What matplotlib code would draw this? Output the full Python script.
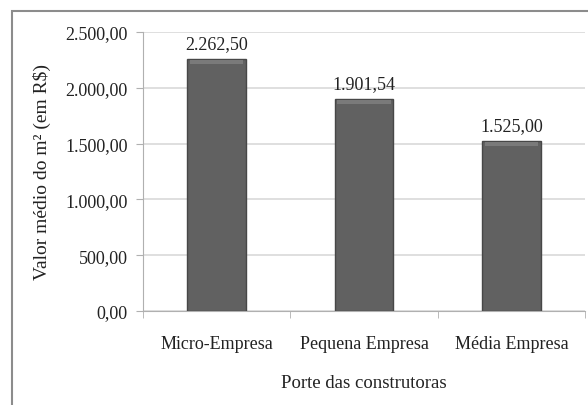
import matplotlib
matplotlib.use("Agg")
import matplotlib.pyplot as plt
from matplotlib.patches import Rectangle

# dados do gráfico
categorias = ["Micro-Empresa", "Pequena Empresa", "Média Empresa"]
valores = [2262.50, 1901.54, 1525.00]
yticks = [0, 500, 1000, 1500, 2000, 2500]


def fmt_br(v):
    # formato brasileiro: 2.262,50
    s = f"{v:,.2f}"
    return s.replace(",", "X").replace(".", ",").replace("X", ".")


plt.rcParams["font.family"] = ["Liberation Serif", "DejaVu Serif"]

fig = plt.figure(figsize=(5.88, 4.06), dpi=100)

# moldura externa (cortada à direita e embaixo)
fig.patches.append(Rectangle((12 / 588, -0.05), 1.2, 1 - 12 / 406 + 0.05,
                             transform=fig.transFigure, fill=False,
                             edgecolor="#8c8c8c", linewidth=1.5))

ax = fig.add_axes([143 / 588, 1 - 312 / 406, 442 / 588, 279 / 406])

x = range(len(categorias))
bars = ax.bar(x, valores, width=0.40, color="#616161", edgecolor="#474747",
              linewidth=1.0, zorder=3)

# leve brilho no topo das barras (efeito chanfrado)
for b in bars:
    ax.add_patch(Rectangle((b.get_x() + 0.02, b.get_height() - 45),
                           b.get_width() - 0.04, 35, facecolor="#7a7a7a",
                           edgecolor="none", zorder=4))

for b, v in zip(bars, valores):
    ax.text(b.get_x() + b.get_width() / 2, v + 60, fmt_br(v),
            ha="center", va="bottom", fontsize=13, color="#222222")

ax.set_xlim(-0.5, 2.5)
ax.set_ylim(0, 2500)
ax.set_yticks(yticks)
ax.set_yticklabels([fmt_br(v) for v in yticks], fontsize=13, color="#222222")
ax.set_xticks([0, 1, 2])
ax.set_xticklabels(categorias, fontsize=13, color="#222222")
ax.set_xticks([-0.5, 0.5, 1.5, 2.5], minor=True)

ax.grid(axis="y", color="#d9d9d9", linewidth=1.2, zorder=0)
ax.tick_params(axis="x", which="major", length=0, pad=17)
ax.tick_params(axis="x", which="minor", length=5, color="#b0b0b0")
ax.tick_params(axis="y", length=5, color="#b0b0b0", pad=6)

for side in ["top", "right"]:
    ax.spines[side].set_visible(False)
ax.spines["left"].set_color("#b0b0b0")
ax.spines["bottom"].set_color("#b0b0b0")

ax.set_xlabel("Porte das construtoras", fontsize=13.5, color="#222222", labelpad=16)
ax.set_ylabel("Valor médio do m² (em R$)", fontsize=14, color="#222222", labelpad=10)

fig.savefig("out.png", dpi=100)
